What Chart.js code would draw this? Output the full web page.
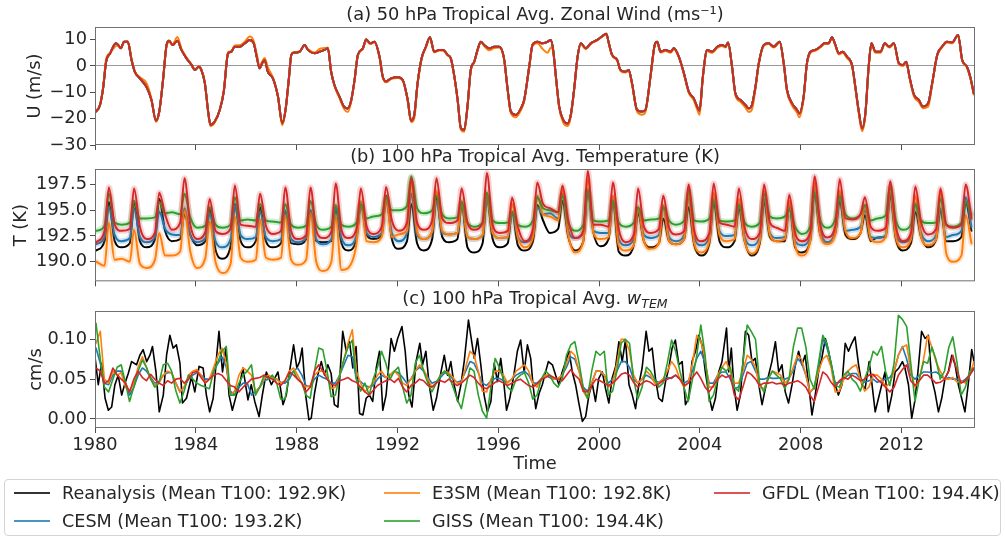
<!DOCTYPE html>
<html>
<head>
<meta charset="utf-8">
<title>Tropical 50/100 hPa diagnostics</title>
<script src="https://cdn.jsdelivr.net/npm/chart.js@4.4.1/dist/chart.umd.min.js"></script>
<style>
  body { margin: 0; background: #fff; width: 1005px; height: 536px; overflow: hidden; position: relative; font-family: "DejaVu Sans", sans-serif; }
  canvas { position: absolute; left: 0; }
  #legend { position: absolute; left: 4px; top: 479px; width: 997px; height: 57px; border: 1px solid #d4d4d4; border-radius: 4px; box-sizing: border-box; }
  .item { position: absolute; font-size: 17.6px; color: #262626; white-space: nowrap; line-height: 20px; }
  .item i { position: absolute; left: -48px; top: 9px; width: 36px; height: 2px; opacity: .8; }
</style>
</head>
<body>
<canvas id="cu" width="1005" height="160" style="top:0"></canvas>
<canvas id="ct" width="1005" height="155" style="top:140px"></canvas>
<canvas id="cw" width="1005" height="190" style="top:285px"></canvas>
<div id="legend"></div>
<script>
const FONT = '"DejaVu Sans", sans-serif';
const INK = '#262626';
const FS = 17.8;

// legend order (matplotlib fills column by column)
const seriesNames = ['Reanalysis', 'CESM', 'E3SM', 'GISS', 'GFDL'];
const seriesColors = ['#000000', '#1f77b4', '#ff7f0e', '#2ca02c', '#d62728'];
const meanT100 = [192.9, 193.2, 192.8, 194.4, 194.4];

const years = [];
for (let y = 1980; y <= 2014; y++) years.push(y);
const xTicks = [1980, 1984, 1988, 1992, 1996, 2000, 2004, 2008, 2012];

const uTicks = [-30, -20, -10, 0, 10];
const tTicks = [190, 192.5, 195, 197.5];
const wTicks = [0, 0.05, 0.10];

// (a) 50 hPa zonal wind, [year, m/s]; CESM, GISS and GFDL are nudged and follow the reanalysis
const uRean = [
  [1980.00,-17.7],[1980.20,-14.8],[1980.33,-7.8],[1980.44,1.6],[1980.60,4.8],[1980.83,8.6],[1980.92,8.0],[1981.03,6.7],
  [1981.15,9.2],[1981.30,9.2],[1981.45,2.3],[1981.58,-2.2],[1981.78,-4.7],[1982.05,-8.1],[1982.24,-12.9],[1982.42,-20.8],
  [1982.55,-17.3],[1982.70,-5.3],[1982.84,8.0],[1982.94,9.6],[1983.08,8.0],[1983.27,9.6],[1983.43,6.1],[1983.63,2.9],
  [1983.83,0.4],[1983.96,-1.5],[1984.12,-0.3],[1984.22,-1.5],[1984.36,-6.6],[1984.49,-17.3],[1984.58,-22.4],[1984.75,-21.1],
  [1984.95,-16.7],[1985.11,-9.7],[1985.28,4.8],[1985.41,5.4],[1985.54,7.3],[1985.74,7.3],[1985.94,8.6],[1986.14,9.9],
  [1986.30,8.6],[1986.43,2.9],[1986.53,-0.9],[1986.63,1.0],[1986.73,2.3],[1986.86,-2.2],[1987.06,-4.7],[1987.26,-11.6],
  [1987.43,-21.8],[1987.56,-16.7],[1987.70,-4.1],[1987.79,4.2],[1987.92,5.1],[1988.12,5.4],[1988.32,8.0],[1988.45,6.1],
  [1988.71,4.8],[1988.91,5.4],[1989.11,6.1],[1989.24,6.7],[1989.37,-2.2],[1989.50,-7.2],[1989.70,-11.6],[1989.90,-15.7],
  [1990.03,-16.1],[1990.17,-12.9],[1990.30,-5.3],[1990.43,4.2],[1990.63,6.7],[1990.76,10.1],[1990.92,8.6],[1991.09,9.2],
  [1991.29,3.5],[1991.42,-4.1],[1991.55,-5.9],[1991.75,-4.7],[1992.01,-4.3],[1992.21,-5.3],[1992.41,-12.9],[1992.54,-20.8],
  [1992.67,-18.6],[1992.80,-6.6],[1992.96,2.9],[1993.13,7.3],[1993.29,10.9],[1993.46,5.4],[1993.66,6.1],[1993.82,6.1],
  [1993.99,4.2],[1994.12,2.9],[1994.25,-3.4],[1994.39,-12.9],[1994.52,-23.7],[1994.65,-24.3],[1994.78,-15.4],[1994.91,-1.5],
  [1995.05,1.6],[1995.18,6.1],[1995.31,9.2],[1995.44,8.0],[1995.64,6.7],[1995.84,7.3],[1996.04,7.3],[1996.23,2.9],
  [1996.37,-8.5],[1996.50,-17.3],[1996.70,-18.6],[1996.90,-16.1],[1997.03,-12.9],[1997.23,-0.3],[1997.36,8.0],[1997.56,9.2],
  [1997.76,8.6],[1997.96,9.2],[1998.09,9.9],[1998.18,6.1],[1998.29,-4.1],[1998.42,-15.4],[1998.58,-20.5],[1998.75,-21.8],
  [1998.88,-18.6],[1999.01,-9.1],[1999.15,3.5],[1999.28,8.6],[1999.47,6.7],[1999.67,8.6],[1999.93,9.9],[2000.20,11.8],
  [2000.29,12.2],[2000.39,8.6],[2000.52,4.2],[2000.72,2.3],[2000.85,-1.5],[2001.05,-2.2],[2001.18,-1.5],[2001.31,-6.6],
  [2001.51,-16.7],[2001.71,-17.3],[2001.84,-16.7],[2002.04,-4.1],[2002.21,8.0],[2002.31,9.2],[2002.44,5.4],[2002.64,6.1],
  [2002.84,5.4],[2002.97,6.7],[2003.17,3.5],[2003.37,-2.8],[2003.56,-9.7],[2003.76,-12.3],[2003.89,-15.4],[2003.99,-17.0],
  [2004.12,-4.1],[2004.29,6.1],[2004.49,5.4],[2004.69,7.3],[2004.88,8.0],[2005.02,7.3],[2005.12,8.9],[2005.28,-0.3],
  [2005.41,-10.4],[2005.61,-12.9],[2005.81,-14.8],[2005.94,-16.1],[2006.07,-14.8],[2006.21,-7.8],[2006.34,1.0],[2006.54,8.0],
  [2006.73,8.6],[2006.93,7.3],[2007.17,9.2],[2007.33,1.0],[2007.46,-9.1],[2007.66,-14.2],[2007.86,-16.7],[2007.95,-18.0],
  [2008.12,-11.6],[2008.25,1.0],[2008.39,5.4],[2008.58,6.1],[2008.78,7.3],[2008.95,8.6],[2009.11,8.6],[2009.24,10.9],
  [2009.38,8.0],[2009.51,4.8],[2009.67,5.4],[2009.84,3.5],[2010.04,0.4],[2010.17,-7.8],[2010.30,-16.7],[2010.44,-23.7],
  [2010.57,-18.0],[2010.70,-0.3],[2010.81,8.6],[2010.97,5.4],[2011.17,5.4],[2011.34,8.6],[2011.52,7.3],[2011.70,8.6],
  [2011.90,1.0],[2012.06,0.4],[2012.19,1.6],[2012.32,-4.1],[2012.50,-11.0],[2012.69,-12.9],[2012.85,-15.4],[2013.06,-14.2],
  [2013.22,-6.6],[2013.42,4.2],[2013.61,7.3],[2013.81,9.2],[2014.01,8.9],[2014.25,11.8],[2014.41,2.3],[2014.60,-0.3],
  [2014.73,-4.1],[2014.87,-10.4]
];
const uE3sm = [
  [1980.00,-17.7],[1980.20,-14.5],[1980.33,-7.4],[1980.44,2.5],[1980.60,5.0],[1980.83,7.6],[1980.92,7.8],[1981.03,6.9],
  [1981.15,9.0],[1981.30,9.4],[1981.45,2.8],[1981.58,-2.0],[1981.78,-4.3],[1982.05,-6.6],[1982.24,-12.5],[1982.42,-21.2],
  [1982.55,-17.6],[1982.70,-5.0],[1982.84,7.4],[1982.94,9.0],[1983.08,8.3],[1983.27,11.0],[1983.43,6.6],[1983.63,3.3],
  [1983.83,0.6],[1983.96,-1.2],[1984.12,-0.1],[1984.22,-1.3],[1984.36,-6.3],[1984.49,-17.6],[1984.58,-22.8],[1984.75,-21.5],
  [1984.95,-16.4],[1985.11,-9.3],[1985.28,5.2],[1985.41,5.6],[1985.54,7.8],[1985.74,7.9],[1985.94,9.2],[1986.14,11.2],
  [1986.30,9.4],[1986.43,4.0],[1986.53,-0.4],[1986.63,1.6],[1986.73,3.0],[1986.86,-0.5],[1987.06,-4.4],[1987.26,-11.4],
  [1987.43,-22.5],[1987.56,-17.0],[1987.70,-4.4],[1987.79,4.4],[1987.92,5.3],[1988.12,5.6],[1988.32,7.7],[1988.45,6.4],
  [1988.71,5.1],[1988.91,6.5],[1989.11,6.8],[1989.24,7.0],[1989.37,-1.9],[1989.50,-7.5],[1989.70,-12.2],[1989.90,-16.5],
  [1990.03,-17.5],[1990.17,-13.4],[1990.30,-5.6],[1990.43,4.0],[1990.63,6.4],[1990.76,9.7],[1990.92,8.3],[1991.09,9.0],
  [1991.29,3.2],[1991.42,-4.4],[1991.55,-6.2],[1991.75,-5.0],[1992.01,-4.6],[1992.21,-5.6],[1992.41,-13.5],[1992.54,-21.3],
  [1992.67,-19.8],[1992.80,-7.2],[1992.96,2.6],[1993.13,7.0],[1993.29,10.6],[1993.46,5.2],[1993.66,5.9],[1993.82,5.8],
  [1993.99,4.0],[1994.12,2.6],[1994.25,-3.7],[1994.39,-13.3],[1994.52,-24.2],[1994.65,-25.0],[1994.78,-16.0],[1994.91,-2.0],
  [1995.05,1.3],[1995.18,5.8],[1995.31,8.9],[1995.44,7.6],[1995.64,6.0],[1995.84,6.8],[1996.04,7.0],[1996.23,2.6],
  [1996.37,-8.9],[1996.50,-17.8],[1996.70,-19.5],[1996.90,-16.8],[1997.03,-13.4],[1997.23,-0.8],[1997.36,7.6],[1997.56,8.6],
  [1997.76,6.5],[1997.96,5.0],[1998.09,7.0],[1998.18,5.5],[1998.29,-4.6],[1998.42,-16.0],[1998.58,-21.5],[1998.75,-22.8],
  [1998.88,-19.4],[1999.01,-9.6],[1999.15,3.2],[1999.28,8.3],[1999.47,6.4],[1999.67,8.3],[1999.93,9.7],[2000.20,11.6],
  [2000.29,12.0],[2000.39,8.4],[2000.52,3.9],[2000.72,2.0],[2000.85,-1.8],[2001.05,-2.5],[2001.18,-1.9],[2001.31,-7.1],
  [2001.51,-17.4],[2001.71,-18.5],[2001.84,-17.5],[2002.04,-4.6],[2002.21,7.7],[2002.31,8.9],[2002.44,5.1],[2002.64,5.7],
  [2002.84,5.0],[2002.97,6.4],[2003.17,3.2],[2003.37,-3.2],[2003.56,-10.2],[2003.76,-13.0],[2003.89,-16.4],[2003.99,-18.5],
  [2004.12,-4.5],[2004.29,5.6],[2004.49,5.0],[2004.69,6.9],[2004.88,7.6],[2005.02,7.0],[2005.12,8.6],[2005.28,-0.7],
  [2005.41,-11.0],[2005.61,-13.6],[2005.81,-15.8],[2005.94,-17.5],[2006.07,-16.5],[2006.21,-8.6],[2006.34,0.6],[2006.54,7.6],
  [2006.73,8.3],[2006.93,7.0],[2007.17,8.9],[2007.33,0.6],[2007.46,-9.7],[2007.66,-15.0],[2007.86,-17.8],[2007.95,-19.5],
  [2008.12,-12.4],[2008.25,0.6],[2008.39,5.0],[2008.58,5.8],[2008.78,7.0],[2008.95,8.3],[2009.11,8.3],[2009.24,10.6],
  [2009.38,7.6],[2009.51,4.4],[2009.67,5.0],[2009.84,3.0],[2010.04,0.0],[2010.17,-8.4],[2010.30,-17.6],[2010.44,-24.8],
  [2010.57,-18.8],[2010.70,-0.8],[2010.81,8.2],[2010.97,5.0],[2011.17,5.0],[2011.34,8.3],[2011.52,7.0],[2011.70,8.2],
  [2011.90,0.6],[2012.06,0.0],[2012.19,1.2],[2012.32,-4.6],[2012.50,-11.6],[2012.69,-13.6],[2012.85,-16.0],[2013.06,-15.5],
  [2013.22,-7.2],[2013.42,3.8],[2013.61,7.0],[2013.81,8.9],[2014.01,8.6],[2014.25,11.5],[2014.41,2.0],[2014.60,-0.6],
  [2014.73,-4.5],[2014.87,-10.8]
];

// (b) 100 hPa temperature, K, four samples a year: Jan, May, Jul/Aug peak, Oct
const tPhase = [0.05, 0.38, 0.55, 0.78];
const tRean = [
  191.1,192.0,195.8,192.0, 191.4,191.8,195.9,192.0, 191.4,192.2,196.1,193.0, 192.0,192.2,194.6,192.6, 191.6,192.0,195.2,191.2,
  190.3,191.5,195.6,192.0, 191.4,192.0,195.3,192.0, 191.4,191.8,194.85,191.8, 191.7,192.2,195.0,192.0, 191.9,192.0,195.2,191.8,
  191.1,192.3,195.6,192.6, 192.2,192.6,196.4,192.2, 191.25,192.0,195.6,191.8, 191.1,192.2,196.25,192.4, 191.9,192.2,195.5,191.4,
  190.9,191.8,196.25,192.2, 191.4,191.8,194.85,191.6, 191.1,192.0,195.5,194.0, 192.8,193.2,195.9,192.4, 191.1,192.0,197.0,192.8,
  191.5,192.2,195.9,191.0, 190.6,191.6,194.7,192.0, 191.4,191.8,194.2,192.0, 191.7,192.2,195.3,191.6, 190.6,191.8,195.8,192.0,
  191.4,192.0,195.2,192.0, 190.6,191.8,195.8,192.4, 192.0,192.0,195.5,191.4, 190.9,192.0,196.7,192.6, 191.9,192.8,195.9,192.6,
  192.2,192.8,194.5,192.0, 192.35,192.4,196.4,192.2, 191.1,191.8,194.85,192.4, 191.4,192.2,195.0,192.0, 192.0,192.4,195.8,193.0
];
const tCesm = [
  191.7,192.4,195.3,192.6, 192.0,192.3,195.2,192.4, 191.9,192.4,194.85,193.2, 192.65,192.6,195.2,192.6, 191.9,192.3,194.7,192.0,
  191.4,192.2,195.5,192.6, 192.2,192.4,194.85,192.4, 192.0,192.2,195.0,192.2, 191.9,192.3,195.0,192.2, 191.7,192.2,195.3,192.3,
  191.6,192.6,195.6,192.8, 192.4,192.8,195.9,192.8, 192.0,192.8,196.6,192.6, 192.2,192.9,195.9,192.8, 192.65,192.8,195.6,192.4,
  192.2,192.6,196.1,192.8, 192.3,192.4,194.7,192.4, 191.9,192.6,195.3,194.6, 194.7,194.2,196.6,193.0, 192.3,192.8,197.0,193.0,
  192.8,192.8,196.1,192.2, 191.6,192.2,195.0,192.6, 192.3,192.6,195.3,192.4, 192.0,192.6,196.25,192.4, 191.6,192.4,196.25,193.0,
  192.5,192.6,195.6,192.4, 191.6,192.4,196.1,192.8, 192.3,192.4,195.5,192.0, 191.6,192.4,197.2,193.0, 191.9,193.0,196.25,193.0,
  193.1,193.4,195.0,192.4, 192.3,192.6,196.7,192.6, 191.9,192.4,195.6,192.8, 192.0,192.6,195.2,192.4, 192.6,193.0,196.25,193.4
];
const tE3sm = [
  190.0,189.6,193.75,190.2, 190.3,190.0,193.1,189.8, 189.4,190.2,192.8,190.6, 190.6,191.0,195.0,191.0, 189.4,190.4,193.9,190.0,
  188.9,189.8,194.4,190.4, 190.0,190.2,194.1,190.4, 190.2,190.4,194.5,190.2, 189.7,190.2,194.7,190.0, 189.1,190.0,194.4,189.2,
  189.4,191.8,195.9,192.0, 191.9,192.4,196.25,192.4, 192.65,193.0,197.65,193.0, 192.2,193.0,196.9,193.0, 192.65,192.8,195.9,192.4,
  192.2,192.6,196.7,192.8, 192.3,192.4,195.6,192.4, 191.4,192.4,196.4,194.6, 194.4,194.0,197.0,192.6, 190.9,192.0,198.0,192.8,
  192.2,192.4,196.4,191.6, 191.1,191.6,195.3,192.0, 191.25,191.8,195.5,192.0, 191.7,192.2,196.6,191.8, 190.9,192.0,196.7,192.6,
  192.0,192.2,196.1,192.0, 190.8,192.0,196.9,192.6, 192.0,192.2,195.9,191.6, 190.6,192.0,197.65,192.6, 191.7,192.8,196.9,193.0,
  192.3,192.8,195.5,192.2, 191.9,192.4,197.2,192.4, 191.4,192.2,196.4,192.4, 191.6,192.2,196.7,190.8, 190.0,190.6,194.5,191.8
];
const tGiss = [
  193.0,193.5,196.6,193.8, 193.6,193.8,195.9,194.2, 194.2,194.3,195.8,194.7, 194.8,194.6,196.6,194.3, 193.3,193.5,195.3,193.6,
  193.3,193.6,196.25,194.0, 194.1,194.0,195.6,194.0, 193.9,193.8,195.6,193.6, 193.3,193.5,195.9,193.6, 193.1,193.4,195.5,193.6,
  193.4,193.8,195.6,194.2, 194.4,194.6,196.25,195.0, 195.0,195.4,198.3,195.2, 194.7,195.0,196.4,194.6, 194.2,194.3,195.8,193.8,
  193.4,193.8,196.7,194.0, 193.75,193.8,194.8,193.6, 193.4,194.0,196.25,195.2, 195.0,194.8,196.4,193.8, 193.0,193.6,196.9,194.0,
  193.9,194.0,195.9,193.8, 193.4,193.8,195.3,194.0, 194.1,194.2,195.3,194.0, 193.6,194.0,197.0,194.0, 193.9,194.2,195.9,194.0,
  193.9,194.0,195.5,193.8, 193.4,193.8,196.6,194.4, 194.2,194.4,195.0,193.4, 192.7,193.4,196.7,194.0, 193.3,194.2,196.4,194.6,
  194.2,194.6,195.5,194.0, 194.2,194.5,197.3,194.0, 193.1,193.6,195.6,194.0, 193.75,193.8,196.1,193.6, 193.4,193.8,195.8,194.6
];
const tGfdl = [
  191.9,193.0,197.2,193.6, 193.0,193.2,197.1,193.4, 192.2,192.8,196.7,194.6, 193.1,193.8,198.1,193.6, 192.2,192.9,196.1,193.0,
  192.7,193.2,197.4,193.6, 193.5,193.4,196.6,193.5, 192.7,193.0,197.2,193.0, 192.2,192.6,197.2,193.0, 192.3,192.9,197.6,193.1,
  192.3,193.2,197.1,193.4, 192.7,193.4,197.25,194.0, 193.0,193.8,198.1,193.8, 193.1,194.0,198.1,194.2, 193.75,194.0,197.1,193.8,
  193.1,193.8,198.6,193.6, 192.8,193.0,196.2,193.4, 192.0,193.2,197.7,195.6, 195.2,194.8,197.4,194.0, 192.3,193.0,198.8,193.6,
  193.6,193.4,197.7,193.2, 191.9,192.6,197.1,193.4, 192.8,193.2,196.4,193.3, 192.65,193.0,197.5,193.0, 192.0,192.8,197.6,193.8,
  193.6,193.4,197.1,193.3, 192.2,192.8,197.5,193.8, 193.3,193.0,196.5,192.8, 192.0,192.8,198.3,193.6, 192.35,193.5,198.0,194.2,
  194.1,194.6,196.25,193.4, 193.0,193.3,197.8,193.4, 192.0,192.8,197.3,193.8, 192.65,193.2,197.1,193.6, 193.3,193.6,197.5,194.2
];

// (c) 100 hPa w*, cm/s; reanalysis as read turning points [year, value]
const wRean = [
  [1980.00,.078],[1980.13,.043],[1980.26,.070],[1980.40,.026],[1980.53,.011],[1980.66,.015],[1980.79,.043],[1980.92,.055],
  [1981.06,.030],[1981.19,.045],[1981.32,.057],[1981.45,.072],[1981.65,.068],[1981.78,.080],[1981.91,.087],
  [1982.05,.072],[1982.18,.080],[1982.28,.091],[1982.42,.059],[1982.55,.009],[1982.71,.030],[1982.84,.080],[1982.97,.105],
  [1983.10,.089],[1983.23,.093],[1983.37,.070],[1983.47,.020],[1983.63,.026],[1983.83,.053],[1983.96,.034],
  [1984.13,.066],[1984.29,.064],[1984.42,.030],[1984.55,.009],[1984.69,.026],[1984.82,.076],[1984.92,.110],
  [1985.06,.059],[1985.19,.089],[1985.32,.030],[1985.45,.011],[1985.61,.030],[1985.74,.043],[1985.87,.064],
  [1986.07,.024],[1986.20,.043],[1986.34,.022],[1986.51,.003],[1986.64,.030],[1986.80,.059],
  [1987.00,.043],[1987.13,.051],[1987.26,.059],[1987.46,.018],[1987.59,.030],[1987.72,.059],[1987.88,.093],
  [1988.01,.064],[1988.12,.072],[1988.22,.089],[1988.36,.030],[1988.49,-.001],[1988.58,.001],[1988.71,.032],[1988.84,.055],[1988.98,.072],
  [1989.11,.055],[1989.24,.068],[1989.37,.057],[1989.50,.018],[1989.64,.015],[1989.83,.110],[1989.97,.085],
  [1990.10,.097],[1990.23,.064],[1990.36,.091],[1990.50,.007],[1990.63,.005],[1990.76,.026],[1990.89,.030],
  [1991.02,.022],[1991.16,.064],[1991.29,.085],[1991.42,.011],[1991.55,.030],[1991.75,.101],[1991.88,.085],
  [1992.01,.101],[1992.18,.116],[1992.31,.085],[1992.45,.030],[1992.58,.015],[1992.74,.072],[1992.89,.095],
  [1993.00,.068],[1993.13,.085],[1993.26,.043],[1993.42,.011],[1993.55,.026],[1993.73,.059],[1993.86,.080],[1993.99,.055],
  [1994.12,.072],[1994.25,.043],[1994.39,.022],[1994.52,.043],[1994.65,.072],[1994.82,.124],[1994.91,.105],
  [1995.05,.076],[1995.18,.101],[1995.31,.068],[1995.44,.030],[1995.57,.009],[1995.71,.022],[1995.84,.070],[1995.97,.047],
  [1996.10,.076],[1996.23,.043],[1996.33,.011],[1996.46,.026],[1996.63,.057],[1996.76,.085],[1996.89,.099],
  [1997.03,.059],[1997.16,.093],[1997.29,.076],[1997.38,.043],[1997.49,.013],[1997.62,.032],[1997.75,.043],[1997.88,.059],[1997.99,.072],
  [1998.15,.068],[1998.28,.055],[1998.41,.043],[1998.54,.059],[1998.68,.072],[1998.81,.085],[1998.94,.059],
  [1999.07,.043],[1999.20,.020],[1999.34,-.003],[1999.47,.003],[1999.60,.030],[1999.73,.045],[1999.86,.022],[1999.99,.051],
  [2000.13,.059],[2000.26,.038],[2000.39,.020],[2000.52,.051],[2000.66,.066],[2000.79,.097],[2000.92,.072],
  [2001.05,.099],[2001.19,.043],[2001.32,.030],[2001.45,.013],[2001.58,.043],[2001.71,.064],[2001.87,.110],[2001.98,.085],
  [2002.11,.089],[2002.24,.051],[2002.37,.026],[2002.51,.022],[2002.64,.047],[2002.77,.064],[2002.90,.089],
  [2003.03,.099],[2003.17,.068],[2003.30,.072],[2003.43,.018],[2003.56,.026],[2003.69,.072],[2003.83,.085],[2003.96,.105],
  [2004.09,.093],[2004.22,.059],[2004.36,.030],[2004.49,.011],[2004.62,.026],[2004.75,.059],[2004.88,.072],
  [2005.06,.114],[2005.15,.059],[2005.25,.089],[2005.35,.043],[2005.48,.011],[2005.61,.030],[2005.81,.110],[2005.94,.105],
  [2006.07,.072],[2006.20,.076],[2006.34,.043],[2006.47,.018],[2006.60,.038],[2006.73,.055],[2006.86,.072],
  [2007.00,.097],[2007.13,.059],[2007.26,.068],[2007.39,.034],[2007.52,.020],[2007.66,.043],[2007.79,.068],[2007.92,.085],
  [2008.05,.068],[2008.18,.080],[2008.32,.043],[2008.45,.005],[2008.58,.030],[2008.71,.059],[2008.84,.076],[2008.98,.101],
  [2009.11,.085],[2009.21,.068],[2009.37,.043],[2009.50,.030],[2009.64,.043],[2009.77,.095],[2009.90,.085],
  [2010.03,.095],[2010.16,.103],[2010.30,.068],[2010.43,.043],[2010.56,.038],[2010.72,.072],[2010.82,.047],[2010.96,.009],
  [2011.09,.026],[2011.22,.043],[2011.35,.059],[2011.48,.009],[2011.62,.030],[2011.75,.059],[2011.90,.064],
  [2012.04,.072],[2012.14,.064],[2012.28,.043],[2012.41,.001],[2012.54,.024],[2012.67,.064],[2012.80,.110],[2012.94,.101],
  [2013.07,.105],[2013.20,.051],[2013.33,.034],[2013.47,.009],[2013.60,.026],[2013.73,.051],[2013.86,.059],
  [2014.00,.080],[2014.13,.068],[2014.26,.043],[2014.39,.026],[2014.52,.009],[2014.65,.043],[2014.79,.087],[2014.88,.072]
];
// models, six samples a year: Jan, Mar, May, Jul, Sep, Nov
const wPhase = [0.04, 0.21, 0.37, 0.54, 0.71, 0.88];
const wCesm = [
  .089,.070,.045,.043,.055,.060, .060,.045,.030,.040,.055,.064, .060,.052,.045,.047,.055,.058, .058,.045,.034,.040,.050,.055,
  .058,.055,.050,.050,.060,.070, .078,.065,.035,.030,.040,.045, .045,.030,.034,.040,.048,.050, .052,.050,.046,.045,.050,.060,
  .064,.055,.042,.040,.050,.055, .052,.050,.045,.045,.055,.068, .080,.078,.050,.047,.042,.040, .042,.050,.055,.052,.055,.060,
  .058,.052,.045,.050,.060,.065, .060,.052,.045,.047,.052,.058, .056,.050,.046,.048,.060,.072, .070,.058,.045,.042,.048,.051,
  .051,.048,.046,.050,.055,.058, .060,.055,.045,.045,.050,.055, .052,.050,.050,.055,.065,.078, .075,.060,.040,.035,.045,.060,
  .060,.055,.045,.050,.060,.072, .072,.065,.050,.045,.050,.055, .052,.048,.046,.050,.052,.051, .055,.050,.045,.048,.060,.076,
  .085,.070,.045,.045,.055,.059, .059,.050,.038,.040,.055,.070, .072,.060,.050,.050,.052,.051, .051,.052,.050,.052,.060,.076,
  .070,.055,.033,.040,.065,.101, .090,.070,.045,.046,.050,.055, .057,.057,.050,.046,.048,.050, .046,.048,.050,.052,.060,.080,
  .091,.075,.055,.050,.055,.059, .059,.058,.059,.055,.050,.052, .050,.050,.046,.050,.055,.063
];
const wE3sm = [
  .095,.110,.050,.045,.060,.055, .058,.040,.035,.045,.065,.078, .065,.050,.043,.045,.055,.060, .058,.045,.034,.040,.055,.060,
  .062,.055,.045,.050,.065,.080, .089,.070,.030,.035,.055,.064, .060,.055,.034,.040,.050,.055, .052,.050,.045,.048,.060,.064,
  .055,.045,.040,.042,.055,.060, .060,.055,.038,.040,.055,.075, .095,.112,.060,.045,.034,.040, .045,.055,.060,.052,.055,.060,
  .055,.045,.042,.050,.060,.068, .062,.050,.040,.045,.055,.060, .058,.052,.045,.045,.065,.085, .080,.060,.035,.034,.050,.060,
  .060,.055,.045,.050,.060,.064, .068,.060,.045,.040,.050,.055, .055,.050,.051,.055,.070,.085, .080,.060,.035,.026,.045,.060,
  .060,.055,.040,.045,.070,.100, .100,.085,.055,.045,.050,.060, .055,.045,.045,.050,.060,.072, .065,.050,.040,.045,.070,.105,
  .098,.075,.040,.040,.055,.065, .072,.060,.045,.045,.060,.080, .075,.065,.040,.038,.050,.060, .058,.055,.045,.050,.065,.080,
  .075,.055,.034,.038,.060,.075, .080,.065,.034,.035,.050,.060, .065,.068,.050,.035,.040,.055, .055,.050,.040,.045,.060,.080,
  .090,.093,.060,.040,.050,.075, .105,.090,.072,.060,.050,.050, .052,.046,.048,.045,.055,.072
];
const wGiss = [
  .120,.075,.040,.034,.050,.065, .068,.045,.022,.040,.060,.074, .065,.050,.040,.045,.068,.070, .060,.035,.020,.035,.055,.050,
  .045,.042,.040,.038,.060,.072, .085,.091,.030,.030,.045,.055, .060,.068,.030,.040,.055,.050, .055,.045,.025,.025,.055,.060,
  .050,.045,.030,.026,.060,.089, .087,.060,.028,.030,.055,.075, .090,.099,.050,.035,.045,.030, .050,.065,.085,.070,.050,.060,
  .065,.040,.020,.030,.070,.080, .060,.045,.034,.045,.055,.060, .055,.040,.025,.013,.040,.064, .060,.030,.010,.001,.040,.076,
  .065,.050,.040,.035,.050,.055, .058,.045,.025,.030,.050,.060, .055,.045,.040,.050,.080,.093, .097,.070,.040,.026,.060,.085,
  .080,.085,.030,.035,.060,.095, .100,.095,.050,.025,.040,.065, .060,.050,.040,.045,.070,.099, .085,.060,.040,.022,.050,.080,
  .118,.080,.022,.030,.050,.065, .060,.065,.040,.035,.070,.118, .110,.100,.045,.034,.050,.060, .055,.050,.038,.050,.090,.114,
  .114,.090,.050,.038,.070,.105, .095,.070,.042,.040,.055,.060, .050,.045,.035,.050,.065,.085, .080,.091,.060,.042,.070,.130,
  .125,.116,.070,.022,.050,.072, .070,.090,.075,.050,.060,.090, .103,.070,.030,.040,.060,.064
];
const wGfdl = [
  .064,.060,.045,.048,.064,.055, .050,.045,.034,.050,.060,.052, .048,.056,.050,.045,.042,.048, .045,.050,.051,.045,.050,.058,
  .060,.052,.045,.050,.055,.057, .055,.048,.042,.040,.034,.040, .045,.050,.051,.052,.055,.052, .050,.045,.042,.048,.059,.055,
  .050,.045,.034,.040,.060,.068, .060,.050,.044,.042,.048,.050, .052,.048,.046,.040,.034,.030, .036,.042,.045,.048,.050,.046,
  .051,.040,.034,.042,.045,.050, .048,.042,.040,.045,.048,.046, .050,.046,.042,.045,.050,.055, .052,.045,.040,.038,.042,.046,
  .048,.045,.042,.045,.048,.050, .046,.042,.040,.044,.050,.052, .055,.052,.050,.048,.055,.062, .055,.050,.035,.034,.042,.050,
  .048,.045,.042,.045,.050,.056, .058,.055,.046,.040,.045,.048, .046,.042,.044,.048,.050,.052, .055,.050,.042,.045,.052,.059,
  .051,.040,.034,.042,.050,.055, .052,.055,.030,.024,.040,.059, .056,.050,.042,.045,.045,.046, .044,.045,.042,.045,.046,.048,
  .045,.040,.030,.022,.040,.059, .055,.046,.040,.048,.052,.050, .055,.052,.048,.050,.055,.056, .050,.045,.040,.034,.040,.055,
  .062,.068,.048,.042,.048,.055, .055,.050,.045,.046,.050,.060, .080,.060,.045,.048,.055,.064
];

// ---- helpers ----
const fromPairs = pairs => pairs.map(([x, y]) => ({ x, y }));
function onGrid(phase, vals) {
  const out = [];
  years.forEach((yr, i) => phase.forEach((p, k) => out.push({ x: yr + p, y: vals[i * phase.length + k] })));
  return out;
}
function rgba(hex, a) {
  const n = parseInt(hex.slice(1), 16);
  return `rgba(${(n >> 16) & 255},${(n >> 8) & 255},${n & 255},${a})`;
}
// series 0 is drawn first (bottom), GFDL last (top)
function line(i, data, width, smooth) {
  const ds = { label: seriesNames[i], data, borderColor: seriesColors[i], borderWidth: width, order: 10 - 2 * i };
  if (smooth) ds.cubicInterpolationMode = 'monotone';
  return ds;
}
function band(i, data) {
  return {
    label: seriesNames[i] + ' spread', data, borderColor: rgba(seriesColors[i], 0.2), borderWidth: 6,
    order: 11 - 2 * i, cubicInterpolationMode: 'monotone'
  };
}

function framePlugin(parts, lift) {
  return {
    id: 'frame',
    afterDraw(chart) {
      const { ctx, chartArea: a } = chart;
      ctx.save();
      ctx.strokeStyle = '#707070';
      ctx.lineWidth = 1;
      ctx.strokeRect(a.left + 0.5, a.top + 0.5, a.right - a.left - 1, a.bottom - a.top - 1);
      // panel title, centred over the axes; parts allow an italic subscript
      let w = 0;
      parts.forEach(p => {
        p.font = `${p.italic ? 'italic ' : ''}${p.size || FS}px ${FONT}`;
        ctx.font = p.font;
        p.w = ctx.measureText(p.text).width;
        w += p.w;
      });
      let x = (a.left + a.right) / 2 - w / 2;
      ctx.fillStyle = INK;
      ctx.textBaseline = 'alphabetic';
      parts.forEach(p => {
        ctx.font = p.font;
        ctx.fillText(p.text, x, a.top - lift + (p.dy || 0));
        x += p.w;
      });
      ctx.restore();
    }
  };
}

function panel(id, cfg) {
  const font = { family: FONT, size: FS };
  return new Chart(document.getElementById(id), {
    type: 'line',
    data: { datasets: cfg.datasets },
    options: {
      responsive: false,
      animation: false,
      devicePixelRatio: 1,
      parsing: false,
      normalized: true,
      layout: { padding: { left: 0, right: 30, top: cfg.top, bottom: 0 } },
      elements: { point: { radius: 0 }, line: { tension: 0, borderJoinStyle: 'round', borderCapStyle: 'round' } },
      plugins: { legend: { display: false }, tooltip: { enabled: false } },
      scales: {
        x: {
          type: 'linear', min: 1980, max: 2014.92,
          afterBuildTicks: s => { s.ticks = xTicks.map(v => ({ value: v })); },
          afterFit: s => { s.height = cfg.xHeight; },
          border: { display: false },
          grid: { drawOnChartArea: false, tickLength: 5, tickColor: '#505050' },
          ticks: { font, color: INK, padding: 2, maxRotation: 0, autoSkip: false, callback: v => cfg.xLabels ? String(v) : '' },
          title: { display: !!cfg.xTitle, text: cfg.xTitle || '', font, color: INK, padding: 0 }
        },
        y: {
          type: 'linear', min: cfg.ymin, max: cfg.ymax,
          afterBuildTicks: s => { s.ticks = cfg.yTicks.map(v => ({ value: v })); },
          afterFit: s => { s.width = 95; },
          border: { display: false },
          grid: {
            color: c => (cfg.zero && c.tick && c.tick.value === 0) ? '#9a9a9a' : 'rgba(0,0,0,0)',
            tickLength: 5, tickColor: '#505050'
          },
          ticks: { font, color: INK, padding: 3, callback: v => v.toFixed(cfg.dec).replace('-', '\u2212') },
          title: { display: true, text: cfg.yTitle, font, color: INK, padding: { top: cfg.yTitlePad, bottom: 0 } }
        }
      }
    },
    plugins: [framePlugin(cfg.title, cfg.lift)]
  });
}

// (a) zonal wind
const uSeries = [uRean, uRean, uE3sm, uRean, uRean];
panel('cu', {
  top: 27, xHeight: 15, ymin: -30, ymax: 14.8, yTicks: uTicks, dec: 0, zero: true, lift: 7,
  yTitle: 'U (m/s)', yTitlePad: 25, xLabels: false,
  title: [{ text: '(a) 50 hPa Tropical Avg. Zonal Wind (ms\u207B\u00B9)' }],
  datasets: uSeries.map((s, i) => line(i, fromPairs(s), 2, true))
});

// (b) temperature with ensemble spread shading for the models
const tSeries = [tRean, tCesm, tE3sm, tGiss, tGfdl];
const tSets = [];
tSeries.forEach((s, i) => {
  const pts = onGrid(tPhase, s);
  if (i > 0) tSets.push(band(i, pts));
  tSets.push(line(i, pts, 2, true));
});
panel('ct', {
  top: 29, xHeight: 9, ymin: 188.1, ymax: 199.0, yTicks: tTicks, dec: 1, zero: false, lift: 7,
  yTitle: 'T (K)', yTitlePad: 11, xLabels: false,
  title: [{ text: '(b) 100 hPa Tropical Avg. Temperature (K)' }],
  datasets: tSets
});

// (c) residual vertical velocity
const wSets = [line(0, fromPairs(wRean), 1.6, false)];
[wCesm, wE3sm, wGiss, wGfdl].forEach((s, k) => wSets.push(line(k + 1, onGrid(wPhase, s), 1.6, false)));
panel('cw', {
  top: 26, xHeight: 47, ymin: -0.0113, ymax: 0.1355, yTicks: wTicks, dec: 2, zero: true, lift: 7,
  yTitle: 'cm/s', yTitlePad: 26, xLabels: true, xTitle: 'Time',
  title: [
    { text: '(c) 100 hPa Tropical Avg. ' },
    { text: 'w', italic: true },
    { text: 'TEM', italic: true, size: 12.5, dy: 4 }
  ],
  datasets: wSets
});

// legend below the panels, three columns filled top to bottom
const colX = [62, 432, 762];
const rowY = [493, 521];
seriesNames.forEach((name, i) => {
  const el = document.createElement('div');
  el.className = 'item';
  el.style.left = colX[Math.floor(i / 2)] + 'px';
  el.style.top = (rowY[i % 2] - 10) + 'px';
  el.innerHTML = `<i style="background:${seriesColors[i]}"></i>${name} (Mean T100: ${meanT100[i].toFixed(1)}K)`;
  document.body.appendChild(el);
});
</script>
</body>
</html>
